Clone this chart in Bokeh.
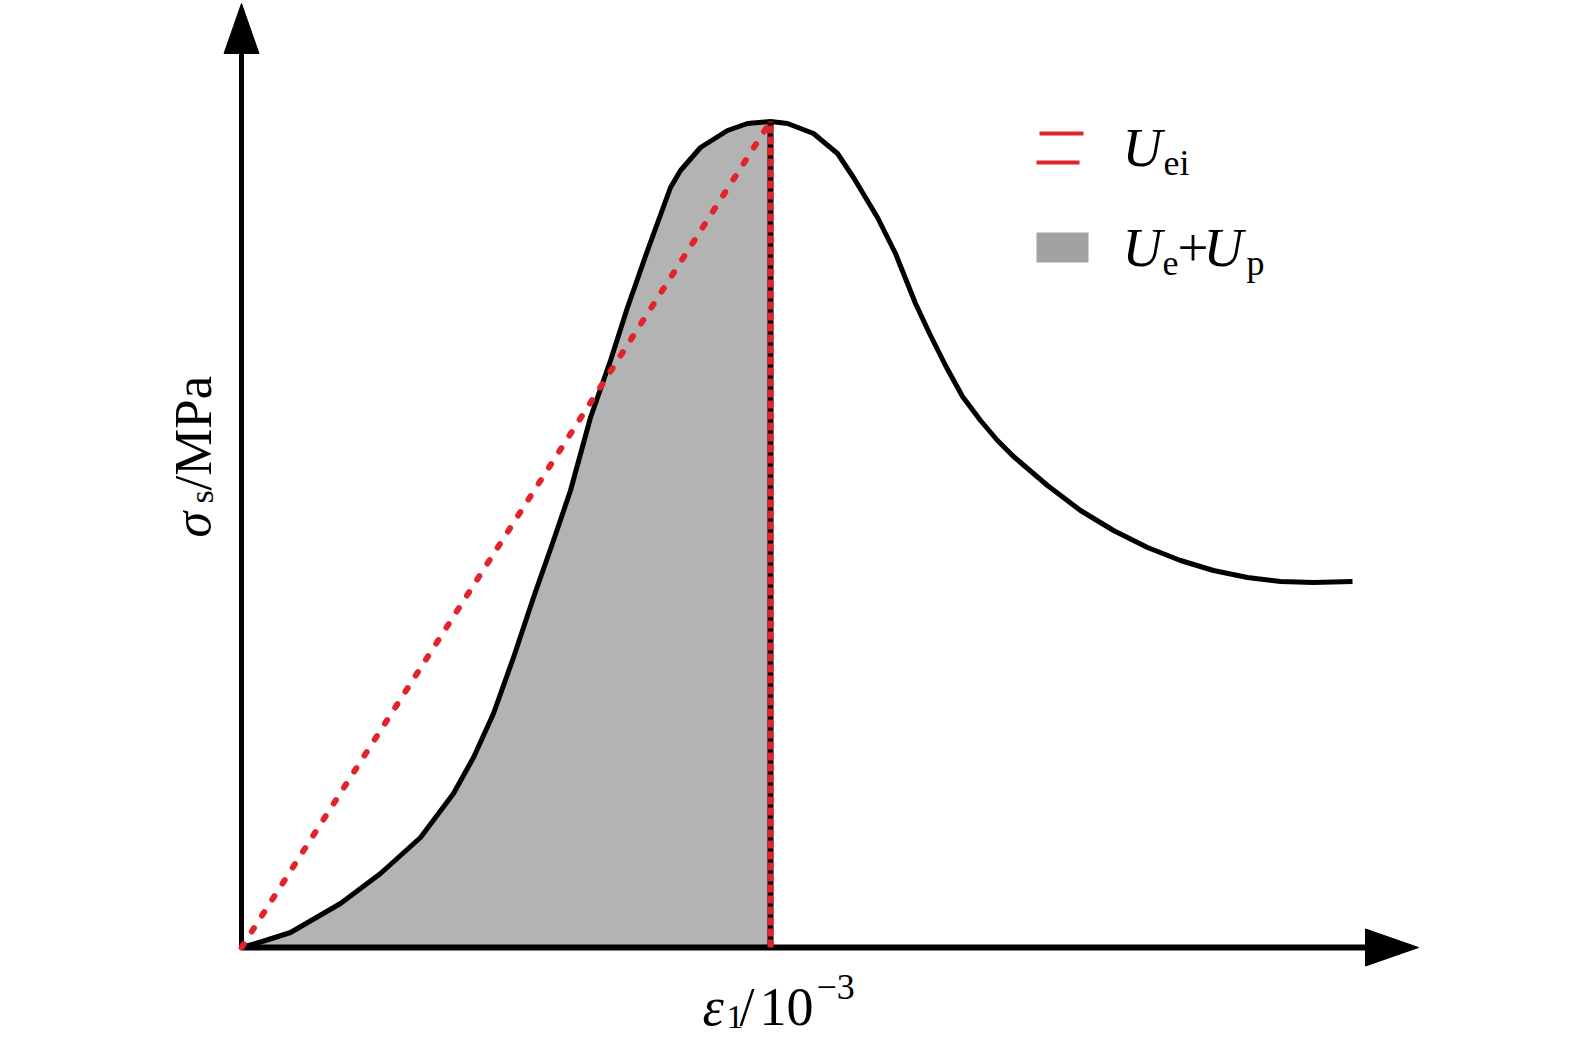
import numpy as np
from bokeh.plotting import figure
from bokeh.models import Range1d
from bokeh.core.properties import value
from bokeh.embed import file_html
from bokeh.resources import INLINE

# schematic stress-strain curve (arbitrary units)
strain = [0.0, 0.24, 0.49, 0.99, 1.39, 1.79, 2.12, 2.32, 2.52, 2.72, 2.92, 3.12, 3.29, 3.49,
          3.69, 3.86, 4.06, 4.29, 4.39, 4.59, 4.86, 5.06, 5.29, 5.46, 5.72, 5.96, 6.12, 6.36,
          6.54, 6.74, 6.89, 7.04, 7.21, 7.39, 7.56, 7.72, 8.06, 8.39, 8.72, 9.06, 9.39, 9.72,
          10.06, 10.39, 10.72, 11.11]
stress = [0.0, 0.07, 0.15, 0.44, 0.74, 1.10, 1.54, 1.90, 2.34, 2.90, 3.50, 4.07, 4.57, 5.30,
          5.87, 6.40, 6.97, 7.60, 7.77, 8.00, 8.17, 8.24, 8.26, 8.24, 8.14, 7.94, 7.70, 7.30,
          6.94, 6.44, 6.12, 5.82, 5.51, 5.27, 5.07, 4.91, 4.62, 4.37, 4.17, 4.00, 3.87, 3.77,
          3.70, 3.66, 3.65, 3.66]
peak_strain = 5.29
peak_stress = 8.26

legend_labels = ["U", "ei", "U", "e", "+", "U", "p"]

FONT = value("Liberation Serif")
RED = "#e3232b"

W, H = 1570, 1048
p = figure(width=W, height=H, output_backend="svg", toolbar_location=None,
           x_range=Range1d(-2.41, (W - 241) / 100), y_range=Range1d((947 - H) / 100, 9.47),
           min_border=0)
p.axis.visible = False
p.grid.visible = False
p.outline_line_color = None
p.background_fill_color = "white"

# shaded area under the pre-peak curve
n = strain.index(peak_strain) + 1
p.varea(x=strain[:n], y1=[0] * n, y2=stress[:n], fill_color="#b3b3b3")

# axes with arrows
x_end, y_end = 11.24, 8.94
p.line([0, 0], [0, y_end], line_color="black", line_width=5)
p.line([0, x_end], [0, 0], line_color="black", line_width=6)
p.patch([-0.175, 0.175, 0.0], [y_end, y_end, 9.44], fill_color="black", line_color="black")
p.patch([x_end, x_end, 11.77], [-0.185, 0.185, 0.0], fill_color="black", line_color="black")

# curve
p.line(strain, stress, line_color="black", line_width=5, line_join="round")

# vertical line at peak (black under red dashes)
p.line([peak_strain, peak_strain], [0, peak_stress], line_color="black", line_width=6)
p.line([peak_strain, peak_strain], [0, peak_stress], line_color=RED, line_width=6, line_dash="8 3")
# secant line origin -> peak
p.line([0, peak_strain], [0, peak_stress], line_color=RED, line_width=6, line_dash="4 15",
       line_cap="round")

# legend
p.line([7.98, 8.42], [8.14, 8.14], line_color=RED, line_width=4)
p.line([7.95, 8.38], [7.85, 7.85], line_color=RED, line_width=4)
p.quad(left=7.95, right=8.47, bottom=6.85, top=7.15, fill_color="#a2a2a5", line_color=None)

DY = 0.19  # baseline correction

def txt(x, y, t, size="55px", style="normal", angle=0.0, baseline="alphabetic", dy=DY):
    p.text(x=[x], y=[y + dy], text=[t], text_font=FONT, text_font_size=size,
           text_font_style=style, text_align="left", text_baseline=baseline,
           angle=angle, text_color="black")

txt(8.81, 7.81, legend_labels[0], style="italic")
txt(9.22, 7.66, legend_labels[1], size="36px")
txt(8.81, 6.81, legend_labels[2], style="italic")
txt(9.21, 6.66, legend_labels[3], size="36px")
txt(9.36, 6.81, legend_labels[4])
txt(9.62, 6.81, legend_labels[5], style="italic")
txt(10.05, 6.66, legend_labels[6], size="36px")

# x label
txt(4.61, -0.78, "ε", size="54px", style="italic")
txt(4.85, -0.88, "1", size="34px")
txt(4.98, -0.78, "/", size="54px")
txt(5.18, -0.78, "10", size="54px")
txt(5.75, -0.58, "−3", size="36px")

# y label (rotated)
a = np.pi / 2
txt(-0.49, 4.10, "σ", size="52px", style="italic", angle=a, baseline="middle", dy=0)
txt(-0.40, 4.44, "s", size="34px", angle=a, baseline="middle", dy=0)
txt(-0.49, 4.57, "/MPa", size="53px", angle=a, baseline="middle", dy=0)

open("out.html", "w").write(file_html(p, INLINE))
